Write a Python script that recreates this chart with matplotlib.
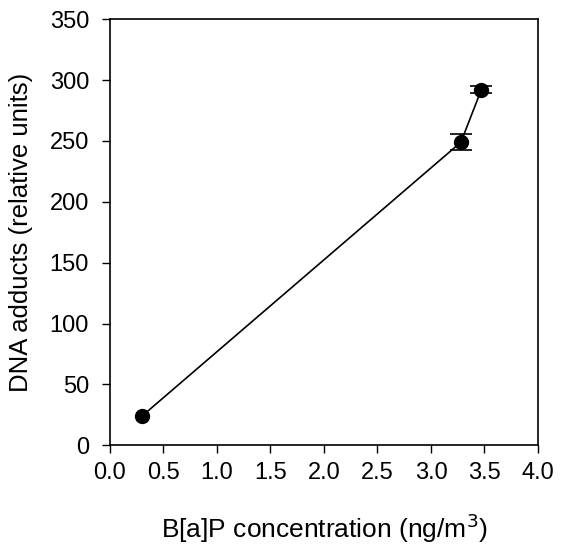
import matplotlib.pyplot as plt

plt.rcParams['font.family'] = ['Liberation Sans', 'DejaVu Sans']

bap = [0.30, 3.28, 3.47]
adducts = [24, 249, 292]
adduct_err = [0.0, 6.5, 3.0]

fig = plt.figure(figsize=(5.61, 5.49), dpi=100)
ax = fig.add_axes([0.196, 0.189, 0.763, 0.776])

ax.plot(bap, adducts, 'o-', color='black', markersize=10, linewidth=1.2)
# first point has no visible error bar
ax.errorbar(bap[1:], adducts[1:], yerr=adduct_err[1:], fmt='none', ecolor='black',
            elinewidth=1.2, capsize=8, capthick=1.2)

ax.set_xlim(0, 4.0)
ax.set_ylim(0, 350)
ax.set_xticks([0.0, 0.5, 1.0, 1.5, 2.0, 2.5, 3.0, 3.5, 4.0])
ax.set_xticklabels([f'{v:.1f}' for v in ax.get_xticks()])
ax.set_yticks(range(0, 351, 50))
ax.tick_params(direction='out', length=6, width=1, labelsize=17)
ax.tick_params(axis='x', pad=6)
ax.tick_params(axis='y', pad=9)
for s in ax.spines.values():
    s.set_linewidth(1.2)

ax.set_xlabel('B[a]P concentration (ng/m$^3$)', fontsize=19, labelpad=20)
ax.set_ylabel('DNA adducts (relative units)', fontsize=18.5, labelpad=12)

fig.savefig('out.png', dpi=100)
plt.close()
